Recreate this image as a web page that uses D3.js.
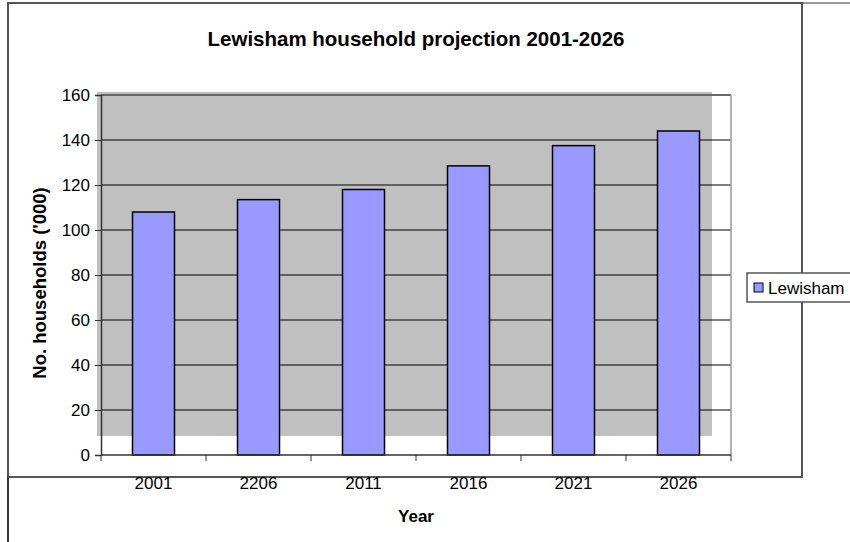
<!DOCTYPE html>
<html lang="en">

<head>
    <meta charset="UTF-8">
    <title>Lewisham household projection</title>
    <style>
        body { margin: 0; background: #fff; }
        text { font-family: Arial, "Liberation Sans", sans-serif; }
    </style>
</head>

<body>
    <svg id="svg" width="850" height="542"></svg>

    <script src="https://d3js.org/d3.v7.min.js"></script>
    <script>
        const years = ['2001', '2206', '2011', '2016', '2021', '2026']
        const households = [108, 113.5, 118, 128.5, 137.5, 144]
        const yTicks = [0, 20, 40, 60, 80, 100, 120, 140, 160]

        const svg = d3.select('#svg')

        // outer chart frame (slightly misaligned copy, as in the original)
        svg.append('line').attr('x1', 8).attr('y1', 3).attr('x2', 850).attr('y2', 3)
            .attr('stroke', '#999').attr('stroke-width', 2)
        svg.append('rect').attr('x', 8).attr('y', 3).attr('width', 794).attr('height', 474)
            .attr('fill', 'none').attr('stroke', '#555').attr('stroke-width', 2)
        svg.append('line').attr('x1', 8).attr('y1', 477).attr('x2', 8).attr('y2', 542)
            .attr('stroke', '#333').attr('stroke-width', 2)

        const xScale = d3.scaleBand()
            .domain(years)
            .range([101, 731])
            .paddingInner(0.6)
            .paddingOuter(0.3)
        const band = d3.scaleBand().domain(years).range([101, 731])

        const yScale = d3.scaleLinear()
            .domain([0, 160])
            .range([455, 95])

        // grey plot area (shifted up/left)
        svg.append('rect')
            .attr('x', 97).attr('y', 92)
            .attr('width', 615).attr('height', 344)
            .attr('fill', '#c0c0c0')

        // gridlines
        svg.selectAll('.grid')
            .data(yTicks.filter(d => d > 0))
            .enter()
            .append('line')
            .attr('x1', 101).attr('x2', 731)
            .attr('y1', d => yScale(d)).attr('y2', d => yScale(d))
            .attr('stroke', d => d === 160 ? '#666' : '#000')
            .attr('stroke-width', d => d === 160 ? 2 : 1)

        svg.append('line').attr('x1', 731).attr('x2', 731).attr('y1', 95).attr('y2', 455)
            .attr('stroke', '#999').attr('stroke-width', 1.5)

        // bars
        svg.selectAll('.bar')
            .data(households)
            .enter()
            .append('rect')
            .attr('x', (d, i) => xScale(years[i]))
            .attr('y', d => yScale(d))
            .attr('width', xScale.bandwidth())
            .attr('height', d => yScale(0) - yScale(d))
            .attr('fill', '#9999ff')
            .attr('stroke', '#000')
            .attr('stroke-width', 1.5)

        // y axis
        const yAxis = d3.axisLeft(yScale)
            .tickValues(yTicks)
            .tickSize(6)
            .tickPadding(5)
        const gy = svg.append('g').attr('transform', 'translate(101,0)').call(yAxis)
        gy.select('.domain').attr('stroke', '#333').attr('stroke-width', 1.5)
        gy.selectAll('.tick line').attr('stroke', '#333')
        gy.selectAll('text').attr('font-size', 17).attr('fill', '#000')
            .attr('font-family', 'Arial, "Liberation Sans", sans-serif')

        // x axis: ticks at category boundaries
        const gx = svg.append('g').attr('transform', 'translate(0,455)')
        gx.append('line').attr('x1', 101).attr('x2', 731)
            .attr('stroke', '#333').attr('stroke-width', 1.5)
        gx.selectAll('.xtick')
            .data(years.concat(['end']))
            .enter()
            .append('line')
            .attr('x1', (d, i) => i < years.length ? band(d) : 731)
            .attr('x2', (d, i) => i < years.length ? band(d) : 731)
            .attr('y1', 0).attr('y2', 6)
            .attr('stroke', '#333')
        gx.selectAll('.xlabel')
            .data(years)
            .enter()
            .append('text')
            .attr('x', d => band(d) + band.bandwidth() / 2)
            .attr('y', 34)
            .attr('text-anchor', 'middle')
            .attr('font-size', 17)
            .text(d => d)

        // titles
        svg.append('text')
            .attr('x', 416).attr('y', 46)
            .attr('text-anchor', 'middle')
            .attr('font-size', 20.5).attr('font-weight', 'bold')
            .text('Lewisham household projection 2001-2026')
        svg.append('text')
            .attr('x', 416).attr('y', 522)
            .attr('text-anchor', 'middle')
            .attr('font-size', 17).attr('font-weight', 'bold')
            .text('Year')
        svg.append('text')
            .attr('transform', 'translate(46,283) rotate(-90)')
            .attr('text-anchor', 'middle')
            .attr('font-size', 18.5).attr('font-weight', 'bold')
            .text("No. households ('000)")

        // legend
        svg.append('rect').attr('x', 747).attr('y', 273).attr('width', 110).attr('height', 29)
            .attr('fill', '#fff').attr('stroke', '#555').attr('stroke-width', 1.5)
        svg.append('rect').attr('x', 754).attr('y', 283).attr('width', 9).attr('height', 9)
            .attr('fill', '#9999ff').attr('stroke', '#000').attr('stroke-width', 1)
        svg.append('text').attr('x', 768).attr('y', 294)
            .attr('font-size', 17)
            .text('Lewisham')
    </script>
</body>

</html>
